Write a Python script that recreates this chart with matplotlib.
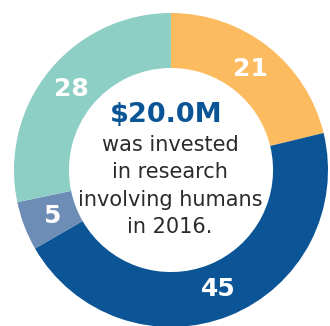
import matplotlib
matplotlib.use("Agg")
import matplotlib.pyplot as plt

values = [21, 45, 5, 28]
colors = ["#FDBB5F", "#0B5597", "#6D8DB6", "#8DCEC5"]
headline = "$20.0M"
body_lines = ["was invested", "in research", "involving humans", "in 2016."]

W, H = 330, 326
fig = plt.figure(figsize=(W / 100, H / 100), dpi=100)
ax = fig.add_axes([0, 0, 1, 1])

cx, cy = 171, H - 170
R = 157
total = sum(values)

wedges, texts, autotexts = ax.pie(
    values, colors=colors, startangle=90, counterclock=False,
    center=(cx, cy), radius=R, frame=True,
    wedgeprops=dict(width=R * 0.35, linewidth=0),
    autopct=lambda p: f"{round(p * total / 100)}", pctdistance=0.815,
    textprops=dict(color="white", fontsize=18, fontweight="bold", family="DejaVu Sans"),
)
ax.set_xlim(0, W)
ax.set_ylim(0, H)
ax.set_aspect("equal")
ax.axis("off")

ax.text(166, H - 115, headline, ha="center", va="center", fontsize=19.5,
        fontweight="bold", color="#0B5597", family="DejaVu Sans")
ys = [145, 172, 200, 227]
for line, y in zip(body_lines, ys):
    ax.text(170, H - y, line, ha="center", va="center", fontsize=15,
            color="#2B2B2B", family="DejaVu Sans")

fig.savefig("out.png", dpi=100)
